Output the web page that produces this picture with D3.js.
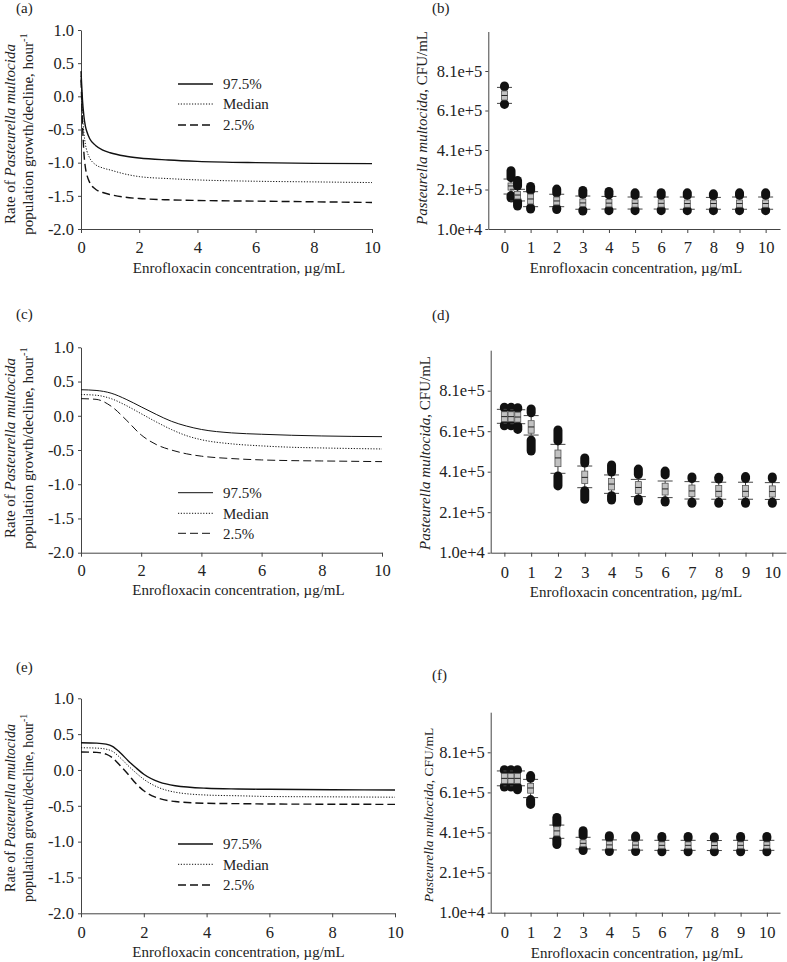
<!DOCTYPE html>
<html><head><meta charset="utf-8">
<script src="https://cdn.jsdelivr.net/npm/d3@7"></script>
<style>
body{margin:0;background:#fff}
svg{display:block}
text{font-family:"Liberation Serif","Times New Roman",serif;fill:#222}
</style>
</head><body>
<svg id="c" width="787" height="962"></svg>
<script>
// ---------- DATA ----------
const seriesNames = ["97.5%", "Median", "2.5%"];
const xTicksLeft = [0, 2, 4, 6, 8, 10];
const yTicksLeft = [-2, -1.5, -1, -0.5, 0, 0.5, 1];
const xTicksRight = [0, 1, 2, 3, 4, 5, 6, 7, 8, 9, 10];
const yTicksRight = [1e4, 2.1e5, 4.1e5, 6.1e5, 8.1e5];
const yTickLabelsRight = ["1.0e+4", "2.1e+5", "4.1e+5", "6.1e+5", "8.1e+5"];

// panel (a)
const concA = [0, 0.02, 0.05, 0.1, 0.15, 0.2, 0.3, 0.5, 0.75, 1, 1.5, 2, 3, 4, 6, 8, 10];
const a975 = [0.38, 0.2, -0.05, -0.3, -0.45, -0.53, -0.64, -0.74, -0.81, -0.85, -0.9, -0.93, -0.96, -0.98, -1.0, -1.01, -1.015];
const aMed = [0.31, 0.1, -0.25, -0.55, -0.72, -0.82, -0.93, -1.03, -1.08, -1.11, -1.17, -1.21, -1.24, -1.26, -1.28, -1.29, -1.3];
const a25  = [0.25, 0.0, -0.4, -0.85, -1.07, -1.18, -1.3, -1.4, -1.45, -1.48, -1.52, -1.54, -1.56, -1.57, -1.58, -1.59, -1.6];

// panel (c)
const concC = [0, 0.5, 1, 1.5, 2, 2.5, 3, 3.5, 4, 5, 6, 7, 8, 10];
const c975 = [0.38, 0.37, 0.33, 0.24, 0.13, 0.02, -0.08, -0.15, -0.2, -0.25, -0.27, -0.285, -0.295, -0.305];
const cMed = [0.31, 0.3, 0.25, 0.15, 0.03, -0.09, -0.2, -0.29, -0.35, -0.41, -0.44, -0.46, -0.47, -0.485];
const c25  = [0.25, 0.24, 0.14, -0.06, -0.28, -0.42, -0.5, -0.555, -0.59, -0.625, -0.645, -0.655, -0.66, -0.67];

// panel (e)
const concE = [0, 0.5, 0.8, 1, 1.25, 1.5, 1.75, 2, 2.5, 3, 4, 5, 6, 8, 10];
const e975 = [0.38, 0.375, 0.36, 0.33, 0.24, 0.13, 0.03, -0.06, -0.17, -0.22, -0.255, -0.265, -0.27, -0.275, -0.28];
const eMed = [0.31, 0.305, 0.29, 0.26, 0.17, 0.06, -0.04, -0.13, -0.25, -0.31, -0.35, -0.36, -0.37, -0.375, -0.38];
const e25  = [0.25, 0.245, 0.22, 0.17, 0.06, -0.06, -0.19, -0.29, -0.4, -0.44, -0.465, -0.47, -0.475, -0.478, -0.48];

// box plots: concentrations (µg/mL)
const boxConc = [0, 0.25, 0.5, 1, 2, 3, 4, 5, 6, 7, 8, 9, 10];

// panel (b) (CFU/mL)
const bHiFar  = [734e3, 305e3, 256e3, 225e3, 212e3, 205e3, 200e3, 193e3, 194e3, 193e3, 188e3, 193e3, 193e3];
const bHiNear = [730e3, 270e3, 228e3, 205e3, 192e3, 185e3, 183e3, 180e3, 180e3, 180e3, 178e3, 180e3, 180e3];
const bP90    = [727e3, 263e3, 211e3, 199e3, 186e3, 177e3, 175e3, 172e3, 172e3, 172e3, 170e3, 172e3, 172e3];
const bQ3     = [709e3, 243e3, 200e3, 187e3, 172e3, 162e3, 160e3, 158e3, 158e3, 157e3, 156e3, 157e3, 157e3];
const bMed    = [686e3, 228e3, 182e3, 162e3, 152e3, 142e3, 141e3, 140e3, 140e3, 139e3, 139e3, 139e3, 139e3];
const bQ1     = [663e3, 207e3, 162e3, 137e3, 132e3, 124e3, 122e3, 121e3, 121e3, 120e3, 120e3, 120e3, 120e3];
const bP10    = [646e3, 187e3, 152e3, 123e3, 123e3, 110e3, 111e3, 111e3, 111e3, 110e3, 110e3, 110e3, 110e3];
const bLoNear = [643e3, 179e3, 150e3, 118e3, 115e3, 105e3, 106e3, 106e3, 106e3, 105e3, 105e3, 105e3, 105e3];
const bLoFar  = [641e3, 167e3, 126e3, 111e3, 109e3, 101e3, 103e3, 103e3, 103e3, 103e3, 103e3, 103e3, 103e3];

// panel (d)
const dHiFar  = [728e3, 728e3, 726e3, 720e3, 616e3, 478e3, 443e3, 423e3, 413e3, 384e3, 382e3, 386e3, 384e3];
const dHiNear = [724e3, 724e3, 722e3, 701e3, 562e3, 453e3, 408e3, 396e3, 394e3, 376e3, 374e3, 376e3, 376e3];
const dP90    = [718e3, 718e3, 716e3, 687e3, 545e3, 438e3, 394e3, 372e3, 364e3, 361e3, 358e3, 358e3, 356e3];
const dQ3     = [706e3, 706e3, 704e3, 662e3, 517e3, 413e3, 377e3, 361e3, 353e3, 344e3, 342e3, 342e3, 340e3];
const dMed    = [682e3, 682e3, 680e3, 631e3, 478e3, 382e3, 349e3, 332e3, 325e3, 315e3, 313e3, 313e3, 312e3];
const dQ1     = [657e3, 657e3, 655e3, 600e3, 435e3, 352e3, 320e3, 303e3, 295e3, 287e3, 286e3, 286e3, 285e3];
const dP10    = [649e3, 649e3, 647e3, 591e3, 402e3, 331e3, 303e3, 287e3, 282e3, 275e3, 274e3, 274e3, 273e3];
const dLoNear = [641e3, 641e3, 636e3, 566e3, 389e3, 316e3, 291e3, 275e3, 267e3, 260e3, 260e3, 260e3, 260e3];
const dLoFar  = [637e3, 637e3, 619e3, 512e3, 340e3, 274e3, 270e3, 265e3, 260e3, 254e3, 254e3, 254e3, 254e3];

// panel (f)
const fHiFar  = [723e3, 723e3, 723e3, 694e3, 485e3, 419e3, 394e3, 392e3, 390e3, 390e3, 388e3, 390e3, 390e3];
const fHiNear = [719e3, 719e3, 719e3, 680e3, 452e3, 393e3, 384e3, 383e3, 382e3, 382e3, 381e3, 382e3, 382e3];
const fP90    = [717e3, 717e3, 717e3, 675e3, 447e3, 386e3, 373e3, 372e3, 371e3, 371e3, 370e3, 371e3, 371e3];
const fQ3     = [705e3, 705e3, 705e3, 655e3, 439e3, 373e3, 366e3, 364e3, 363e3, 363e3, 362e3, 363e3, 363e3];
const fMed    = [680e3, 680e3, 680e3, 632e3, 418e3, 356e3, 348e3, 347e3, 346e3, 346e3, 345e3, 346e3, 346e3];
const fQ1     = [655e3, 655e3, 655e3, 606e3, 393e3, 339e3, 331e3, 330e3, 329e3, 329e3, 328e3, 329e3, 329e3];
const fP10    = [643e3, 643e3, 643e3, 584e3, 381e3, 328e3, 323e3, 322e3, 321e3, 321e3, 320e3, 321e3, 321e3];
const fLoNear = [642e3, 642e3, 638e3, 574e3, 376e3, 326e3, 318e3, 318e3, 317e3, 317e3, 317e3, 317e3, 317e3];
const fLoFar  = [637e3, 637e3, 623e3, 550e3, 350e3, 320e3, 315e3, 315e3, 314e3, 314e3, 314e3, 314e3, 314e3];

// ---------- DRAWING ----------
const svg = d3.select("#c");
const AX = "#444";
const FS = 15;
const TFS = 16.5;

function styleAxis(g) {
  g.select(".domain").attr("stroke", AX).attr("stroke-width", 1);
  g.selectAll(".tick line").attr("stroke", AX);
  g.selectAll(".tick text").attr("font-size", TFS).attr("fill", "#222")
    .attr("font-family", '"Liberation Serif","Times New Roman",serif');
}

function panelLabel(txt, x, y) {
  svg.append("text").attr("x", x).attr("y", y).attr("dy", "0.35em")
    .attr("font-size", FS).text(txt);
}

function xTitle(cx, cy) {
  svg.append("text").attr("x", cx).attr("y", cy).attr("dy", "0.35em")
    .attr("text-anchor", "middle").attr("font-size", FS)
    .text("Enrofloxacin concentration, \u00b5g/mL");
}

const styles = [
  {dash: null},
  {dash: "1.2,1.6"},
  {dash: "8,4"}
];

function linePanel(p) {
  const x = d3.scaleLinear().domain([0, 10]).range([p.left, p.right]);
  const y = d3.scaleLinear().domain([-2, 1]).range([p.bottom, p.top]);
  const gx = svg.append("g").attr("transform", `translate(0,${p.bottom})`)
    .call(d3.axisBottom(x).tickValues(xTicksLeft).tickSize(4).tickSizeOuter(0).tickFormat(d3.format("d")));
  styleAxis(gx);
  gx.selectAll(".tick text").attr("y", p.tickBase - p.bottom).attr("dy", 0);
  const gy = svg.append("g").attr("transform", `translate(${p.left},0)`)
    .call(d3.axisLeft(y).tickValues(yTicksLeft).tickSize(3).tickSizeOuter(0).tickPadding(4).tickFormat(d3.format(".1f")));
  styleAxis(gy);
  gy.selectAll(".tick text").text(d => d3.format(".1f")(d).replace("\u2212", "-"));

  const series = [p.s975, p.sMed, p.s25];
  series.forEach((s, k) => {
    const line = d3.line().x((d, i) => x(p.conc[i])).y(d => y(d)).curve(d3.curveMonotoneX);
    svg.append("path").attr("d", line(s)).attr("fill", "none").attr("stroke", "#111")
      .attr("stroke-width", k === 1 ? 1 : p.lw)
      .attr("stroke-dasharray", styles[k].dash);
  });
  // legend
  seriesNames.forEach((n, k) => {
    const ly = p.legY[k];
    svg.append("line").attr("x1", 178).attr("x2", 213).attr("y1", ly).attr("y2", ly)
      .attr("stroke", "#111").attr("stroke-width", k === 1 ? 1 : p.lw)
      .attr("stroke-dasharray", styles[k].dash);
    svg.append("text").attr("x", 223).attr("y", ly).attr("dy", "0.35em")
      .attr("font-size", FS).text(n);
  });
  // y title (two lines)
  const t1 = svg.append("text").attr("transform", `translate(${p.yt1x},${p.ytc}) rotate(-90)`)
    .attr("text-anchor", "middle").attr("dy", "0.35em").attr("font-size", p.ytfs);
  t1.append("tspan").text("Rate of ");
  t1.append("tspan").attr("font-style", "italic").text("Pasteurella multocida");
  const t2 = svg.append("text").attr("transform", `translate(${p.yt2x},${p.ytc}) rotate(-90)`)
    .attr("text-anchor", "middle").attr("dy", "0.35em").attr("font-size", p.ytfs);
  t2.append("tspan").text("population growth/decline, hour");
  t2.append("tspan").attr("font-size", p.ytfs * 0.7).attr("dy", "-0.6em").text("-1");
  xTitle(p.titleX, p.titleY);
  panelLabel(p.label, 16, p.labelY);
}

function boxPanel(p) {
  const x = d3.scaleLinear().domain(p.xDom).range([p.left, p.right]);
  const y = d3.scaleLinear().domain([1e4, 1.01e6]).range([p.bottom, p.top]);
  const gx = svg.append("g").attr("transform", `translate(0,${p.bottom})`)
    .call(d3.axisBottom(x).tickValues(xTicksRight).tickSize(4).tickSizeOuter(0).tickFormat(d3.format("d")));
  styleAxis(gx);
  gx.selectAll(".tick text").attr("y", p.tickBase - p.bottom).attr("dy", 0);
  const gy = svg.append("g").attr("transform", `translate(${p.left},0)`)
    .call(d3.axisLeft(y).tickValues(yTicksRight).tickSize(3).tickSizeOuter(0).tickPadding(3)
      .tickFormat((d, i) => yTickLabelsRight[i]));
  styleAxis(gy);

  const g = svg.append("g");
  boxConc.forEach((c, i) => {
    const cx = x(c);
    // whiskers
    g.append("line").attr("x1", cx).attr("x2", cx).attr("y1", y(p.q3[i])).attr("y2", y(p.p90[i]))
      .attr("stroke", "#333");
    g.append("line").attr("x1", cx).attr("x2", cx).attr("y1", y(p.q1[i])).attr("y2", y(p.p10[i]))
      .attr("stroke", "#333");
    // caps
    [p.p90[i], p.p10[i]].forEach(v => {
      g.append("line").attr("x1", cx - 7.5).attr("x2", cx + 7.5).attr("y1", y(v)).attr("y2", y(v))
        .attr("stroke", "#444").attr("stroke-width", 1);
    });
    // outlier clusters
    const r = 4.5;
    g.append("rect").attr("x", cx - r).attr("width", 2 * r)
      .attr("y", y(p.hiFar[i]) - r).attr("height", y(p.hiNear[i]) - y(p.hiFar[i]) + 2 * r)
      .attr("rx", r).attr("fill", "#111");
    g.append("rect").attr("x", cx - r).attr("width", 2 * r)
      .attr("y", y(p.loNear[i]) - r).attr("height", y(p.loFar[i]) - y(p.loNear[i]) + 2 * r)
      .attr("rx", r).attr("fill", "#111");
    // box
    g.append("rect").attr("x", cx - 3).attr("width", 6)
      .attr("y", y(p.q3[i])).attr("height", y(p.q1[i]) - y(p.q3[i]))
      .attr("fill", "#c2c2c2").attr("stroke", "#555").attr("stroke-width", 0.8);
    g.append("line").attr("x1", cx - 3).attr("x2", cx + 3).attr("y1", y(p.med[i])).attr("y2", y(p.med[i]))
      .attr("stroke", "#222").attr("stroke-width", 1);
  });
  // y title
  const t = svg.append("text").attr("transform", `translate(${p.ytx},${p.ytc}) rotate(-90)`)
    .attr("text-anchor", "middle").attr("dy", "0.35em").attr("font-size", p.ytfs);
  t.append("tspan").attr("font-style", "italic").text("Pasteurella multocida");
  t.append("tspan").text(", CFU/mL");
  xTitle(p.titleX, p.titleY);
  panelLabel(p.label, 432, p.labelY);
}

linePanel({left: 81, right: 372, top: 30, bottom: 229, conc: concA, s975: a975, sMed: aMed, s25: a25,
  lw: 1.4, legY: [84, 104, 125], tickBase: 253, titleX: 239, titleY: 268,
  yt1x: 10, yt2x: 28, ytc: 134, ytfs: 15, label: "(a)", labelY: 8});
linePanel({left: 81, right: 382, top: 347.3, bottom: 552.7, conc: concC, s975: c975, sMed: cMed, s25: c25,
  lw: 1, legY: [492.7, 513.3, 533.3], tickBase: 576, titleX: 238.5, titleY: 590,
  yt1x: 10, yt2x: 28, ytc: 448, ytfs: 15, label: "(c)", labelY: 314});
linePanel({left: 81, right: 395, top: 698.3, bottom: 913.3, conc: concE, s975: e975, sMed: eMed, s25: e25,
  lw: 1.4, legY: [844, 864.3, 885], tickBase: 938, titleX: 238.5, titleY: 952,
  yt1x: 10, yt2x: 28, ytc: 808, ytfs: 14, label: "(e)", labelY: 667});

boxPanel({left: 488.3, right: 780, xDom: [-0.62, 10.55], top: 31.5, bottom: 229,
  hiFar: bHiFar, hiNear: bHiNear, p90: bP90, q3: bQ3, med: bMed, q1: bQ1, p10: bP10, loNear: bLoNear, loFar: bLoFar,
  tickBase: 253, titleX: 636, titleY: 268, ytx: 422, ytc: 128, ytfs: 15, label: "(b)", labelY: 8});
boxPanel({left: 490.7, right: 786, xDom: [-0.51, 10.51], top: 350.2, bottom: 552.7,
  hiFar: dHiFar, hiNear: dHiNear, p90: dP90, q3: dQ3, med: dMed, q1: dQ1, p10: dP10, loNear: dLoNear, loFar: dLoFar,
  tickBase: 578, titleX: 636, titleY: 592, ytx: 425, ytc: 453, ytfs: 15, label: "(d)", labelY: 315});
boxPanel({left: 490.7, right: 780, xDom: [-0.52, 10.5], top: 712.2, bottom: 912.7,
  hiFar: fHiFar, hiNear: fHiNear, p90: fP90, q3: fQ3, med: fMed, q1: fQ1, p10: fP10, loNear: fLoNear, loFar: fLoFar,
  tickBase: 938, titleX: 637, titleY: 953, ytx: 428, ytc: 815, ytfs: 13.5, label: "(f)", labelY: 675});
</script>
</body></html>
